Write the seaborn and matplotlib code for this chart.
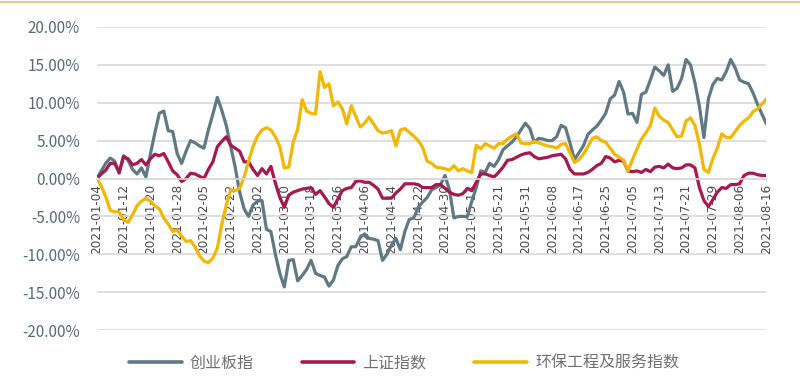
import numpy as np
import pandas as pd
import matplotlib
matplotlib.use("Agg")
import matplotlib.pyplot as plt
import seaborn as sns
from matplotlib.lines import Line2D
from matplotlib.ticker import FuncFormatter
from matplotlib import font_manager as fm

# trading days 2021-01-04 .. 2021-08-16 (SSE holidays removed)
holidays = ["2021-02-11", "2021-02-12", "2021-02-15", "2021-02-16", "2021-02-17",
            "2021-04-05", "2021-05-03", "2021-05-04", "2021-05-05", "2021-06-14"]
dates = pd.bdate_range("2021-01-04", "2021-08-16", freq="C", holidays=holidays)
date_labels = [d.strftime("%Y-%m-%d") for d in dates]

series_names = ["创业板指", "上证指数", "环保工程及服务指数"]

# cumulative change, %
chinext = [
    0, 1.0, 2.0, 2.7, 2.3, 0.7, 3.0, 2.4, 1.2, 0.6,
    1.4, 0.2, 3.2, 6.0, 8.6, 8.9, 6.3, 6.2, 3.3, 2.0,
    3.6, 5.0, 4.7, 4.3, 4.0, 6.4, 8.5, 10.7, 9.0, 7.0,
    4.2, 1.5, -1.8, -4.0, -5.0, -3.5, -3.0, -2.9, -6.7, -7.0,
    -10.0, -12.5, -14.3, -10.8, -10.7, -13.5, -12.8, -12.0, -10.8, -12.5,
    -12.8, -13.0, -14.2, -13.4, -11.5, -10.6, -10.3, -9.0, -9.0, -7.8,
    -7.3, -7.9, -8.0, -8.2, -10.8, -10.0, -8.8, -7.9, -9.4, -7.0,
    -5.4, -5.2, -3.8, -3.1, -2.5, -1.5, -1.2, -0.8, 0.4, -1.5,
    -5.2, -5.0, -5.0, -5.0, -3.0, -1.2, 1.0, 0.8, 2.0, 1.6,
    2.5, 3.8, 4.3, 4.8, 5.5, 6.4, 7.3, 6.6, 4.8, 5.3,
    5.2, 5.0, 5.0, 5.5, 7.0, 6.7, 4.7, 2.5, 3.4, 4.3,
    5.8, 6.4, 6.9, 7.7, 8.6, 10.5, 11.0, 12.8, 11.4, 8.5,
    8.6, 7.4, 11.1, 11.4, 13.0, 14.7, 14.2, 13.6, 15.0, 11.5,
    11.9, 13.2, 15.7, 15.0, 12.6, 9.5, 5.4, 10.5, 12.4, 13.2,
    13.0, 14.1, 15.7, 14.6, 13.0, 12.7, 12.5, 11.3, 9.8, 8.5,
    7.2,
]
sse = [
    0, 0.6, 1.1, 2.0, 2.0, 0.8, 2.9, 2.6, 1.8, 2.0,
    2.5, 1.8, 2.6, 3.2, 3.0, 3.3, 2.2, 1.0, 0.5, -0.4,
    0.0, 0.7, 0.6, 0.3, 0.0, 1.2, 2.2, 4.2, 4.9, 5.5,
    4.4, 4.0, 3.6, 2.2, 2.2, 1.2, 0.4, 1.3, 0.6, 1.6,
    -0.6, -2.5, -3.8, -2.2, -1.8, -1.6, -1.4, -1.3, -1.2, -2.1,
    -1.6, -2.4, -3.3, -3.8, -2.7, -1.6, -1.3, -1.2, -0.4, -0.3,
    -0.5, -0.5, -0.9, -1.4, -2.6, -2.6, -2.6, -1.9, -1.4, -0.7,
    -0.7, -0.7, -0.8, -1.2, -1.2, -1.2, -0.8, -0.8, -1.3, -1.8,
    -2.1, -2.2, -2.0, -1.3, -1.6, -0.5, 0.6, 0.6, 0.4, 0.2,
    0.8, 1.5, 2.4, 2.5, 2.8, 3.1, 3.3, 3.4, 2.9, 2.6,
    2.7, 2.8, 3.0, 3.1, 3.2, 2.6, 1.2, 0.6, 0.6, 0.6,
    0.8, 1.2, 1.7, 2.0, 2.9, 2.7, 2.2, 2.4, 2.3, 1.0,
    0.9, 1.0, 0.8, 1.2, 0.9, 1.5, 1.6, 1.4, 1.9, 1.4,
    1.3, 1.4, 1.8, 1.8, 1.4, -1.2, -2.9, -3.7, -2.8, -1.8,
    -1.2, -1.3, -0.8, -0.8, -0.7, 0.4, 0.7, 0.7, 0.5, 0.4,
    0.4,
]
env = [
    0, -1.0, -2.4, -4.2, -4.4, -4.4, -5.4, -5.8, -4.8, -3.6,
    -3.0, -2.6, -3.0, -3.6, -4.0, -5.2, -6.0, -7.0, -6.8, -7.6,
    -8.3, -8.2, -9.0, -10.2, -10.9, -11.1, -10.5, -9.2, -6.0, -3.5,
    -1.5, -1.6, -1.3, 0.2, 2.3, 4.2, 5.6, 6.4, 6.7, 6.4,
    5.5, 4.2, 1.4, 1.5, 4.8, 6.5, 10.4, 8.9, 8.6, 8.5,
    14.1, 12.0, 12.5, 9.6, 10.1, 9.2, 7.2, 9.6, 8.2, 6.8,
    7.3, 8.1, 7.2, 6.3, 6.0, 6.1, 6.3, 4.3, 6.4, 6.6,
    6.1, 5.6, 5.0, 4.1, 2.3, 2.0, 1.5, 1.4, 1.3, 1.1,
    1.7, 1.0, 1.3, 1.0, 0.8, 4.4, 3.9, 4.6, 4.3, 4.0,
    4.6, 4.6, 5.2, 5.6, 5.9, 4.7, 4.6, 4.6, 4.9, 4.7,
    4.5, 4.3, 4.2, 4.0, 4.5, 4.6, 3.4, 2.1, 2.5, 3.2,
    4.2, 5.3, 5.5, 5.0, 4.8, 4.0, 3.2, 2.8, 2.4, 1.0,
    2.5, 3.9, 5.2, 6.0, 7.0, 9.3, 8.2, 7.7, 7.4, 6.4,
    5.5, 5.6, 7.6, 8.0, 7.0, 4.5, 1.2, 0.8, 2.6, 4.0,
    5.9, 5.4, 5.4, 6.2, 7.0, 7.6, 8.0, 8.8, 9.2, 9.8,
    10.5,
]
y_ticks = [-20, -15, -10, -5, 0, 5, 10, 15, 20]

colors = ["#5e7984", "#a8184f", "#f2b705"]

df = pd.DataFrame({"idx": np.arange(len(dates)), "date": date_labels,
                   series_names[0]: chinext, series_names[1]: sse, series_names[2]: env})
long_df = df.melt(id_vars=["idx", "date"], var_name="series", value_name="pct")

sns.set_theme(style="white")
plt.rcParams["font.family"] = ["Noto Sans CJK SC", "DejaVu Sans"]

# narrow font for the date labels if there is one, else plain DejaVu
def pick_date_font():
    try:
        p = fm.findfont(fm.FontProperties(family="Liberation Sans Narrow"),
                        fallback_to_default=False)
        if "Narrow" in p:
            return dict(family="Liberation Sans Narrow"), 12
    except Exception:
        pass
    p = fm.findfont(fm.FontProperties(family="DejaVu Sans", stretch="condensed"))
    if "Condensed" in p:
        return dict(family="DejaVu Sans", stretch="condensed"), 9.6
    return dict(family="DejaVu Sans"), 8.7

date_font, date_size = pick_date_font()

fig = plt.figure(figsize=(8, 3.79), dpi=100)
ax = fig.add_axes([0.121, 0.129, 0.837, 0.800])

sns.lineplot(ax=ax, data=long_df, x="idx", y="pct", hue="series",
             hue_order=series_names, palette=colors, linewidth=2.3, legend=False)

# x axis crosses at 0 (set before tick styling, it resets ticks)
for s in ["top", "right", "left"]:
    ax.spines[s].set_visible(False)
ax.spines["bottom"].set_position(("data", 0))
ax.spines["bottom"].set_color("#d9d9d9")
ax.spines["bottom"].set_linewidth(1.2)

ax.set_ylim(-20, 20)
ax.set_xlim(0, len(dates) - 1)
ax.set_yticks(y_ticks)
ax.yaxis.set_major_formatter(FuncFormatter(lambda v, p: f"{v:.2f}%"))
ax.grid(axis="y", color="#d9d9d9", linewidth=1.2)
ax.set_axisbelow(True)
ax.set_xlabel("")
ax.set_ylabel("")

tick_pos = list(range(0, len(dates), 6))
ax.set_xticks(tick_pos)
ax.set_xticklabels([date_labels[i] for i in tick_pos])
ax.tick_params(axis="x", length=0, pad=4, labelrotation=90, labelsize=date_size,
               labelcolor="#4a4a4a")
for lab in ax.get_xticklabels():
    lab.set_family(date_font["family"])
    if "stretch" in date_font:
        lab.set_stretch(date_font["stretch"])
ax.tick_params(axis="y", length=0, pad=12, labelsize=11, labelcolor="#5a6a72")

handles = [Line2D([0], [0], color=c, linewidth=2.6) for c in colors]
fig.legend(handles, series_names, loc="center", bbox_to_anchor=(0.505, 0.042), ncol=3,
           frameon=False, fontsize=11.5, handlelength=3.3, handletextpad=0.5,
           columnspacing=3.0, labelcolor="#707070")

fig.add_artist(Line2D([0, 1], [0.995, 0.995], color="#d8c27a", linewidth=1.2,
                      transform=fig.transFigure))

fig.savefig("out.png", dpi=100)
